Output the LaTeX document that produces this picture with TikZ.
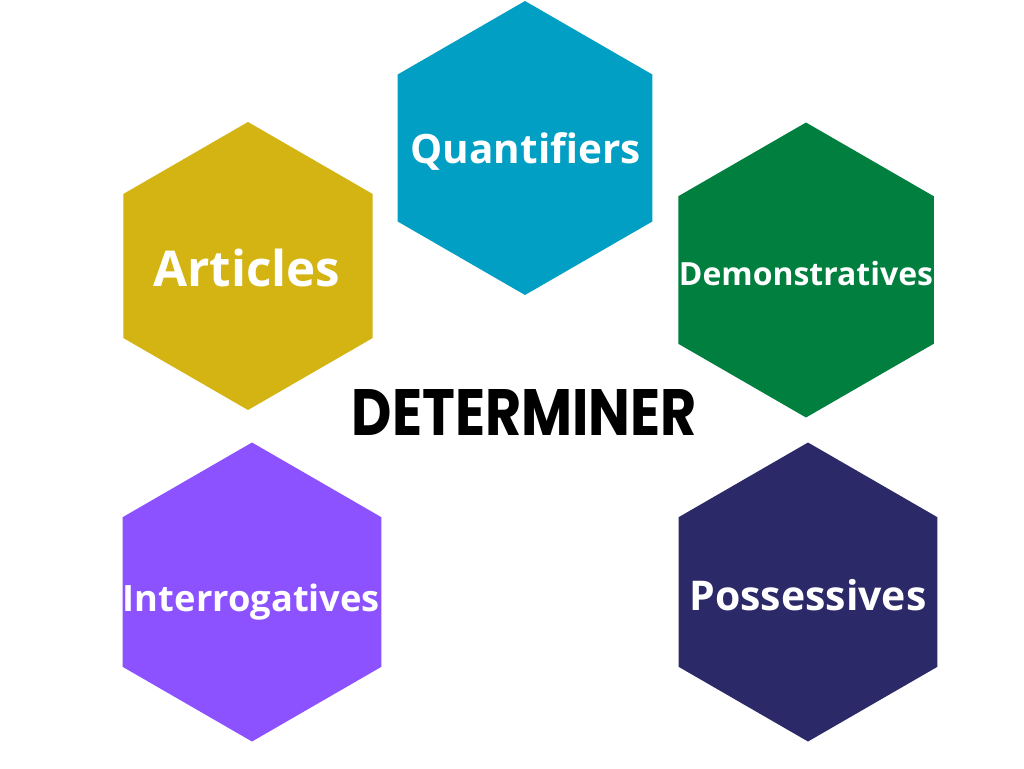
\documentclass[tikz,border=0pt]{standalone}
\usepackage{fontspec}
\setmainfont{Open Sans}
\newfontfamily\titlefont{Poppins}
\usetikzlibrary{shapes.geometric}
\definecolor{cquant}{HTML}{009FC3}
\definecolor{cart}{HTML}{D4B413}
\definecolor{cdemo}{HTML}{007F3E}
\definecolor{cinter}{HTML}{8C52FF}
\definecolor{cposs}{HTML}{2C2968}
\begin{document}
\begin{tikzpicture}[x=1pt,y=-1pt,
  hexa/.style={regular polygon, regular polygon sides=6, shape border rotate=30,
    draw=none, inner sep=0pt, outer sep=0pt},
  hexlabel/.style={text=white, inner sep=0pt, outer sep=0pt, anchor=base, font=\bfseries}]
\useasboundingbox[fill=white] (0,0) rectangle (1024,768);
\node[hexa, fill=cquant, minimum size=294pt] (quant) at (525,148) {};
\node[hexa, fill=cart, minimum size=288pt] (art) at (248,266) {};
\node[hexa, fill=cdemo, minimum size=295pt] (demo) at (806,270) {};
\node[hexa, fill=cinter, minimum size=299pt] (inter) at (252,592) {};
\node[hexa, fill=cposs, minimum size=299pt] (poss) at (808,592) {};
\node[hexlabel] (lquant) at (525.7,163) {\resizebox{230pt}{!}{Quantifiers}};
\node[hexlabel] (lart) at (246.7,286.5) {\resizebox{187pt}{!}{Articles}};
\node[hexlabel] (ldemo) at (806,285) {\resizebox{254pt}{!}{Demonstratives}};
\node[hexlabel] (linter) at (251.5,611.5) {\resizebox{257pt}{!}{Interrogatives}};
\node[hexlabel] (lposs) at (808,610) {\resizebox{237pt}{!}{Possessives}};
\node[inner sep=0pt, outer sep=0pt, anchor=base, text=black] (title) at (524.5,435)
  {\resizebox{345pt}{46pt}{\titlefont\bfseries DETERMINER}};
\end{tikzpicture}
\end{document}
